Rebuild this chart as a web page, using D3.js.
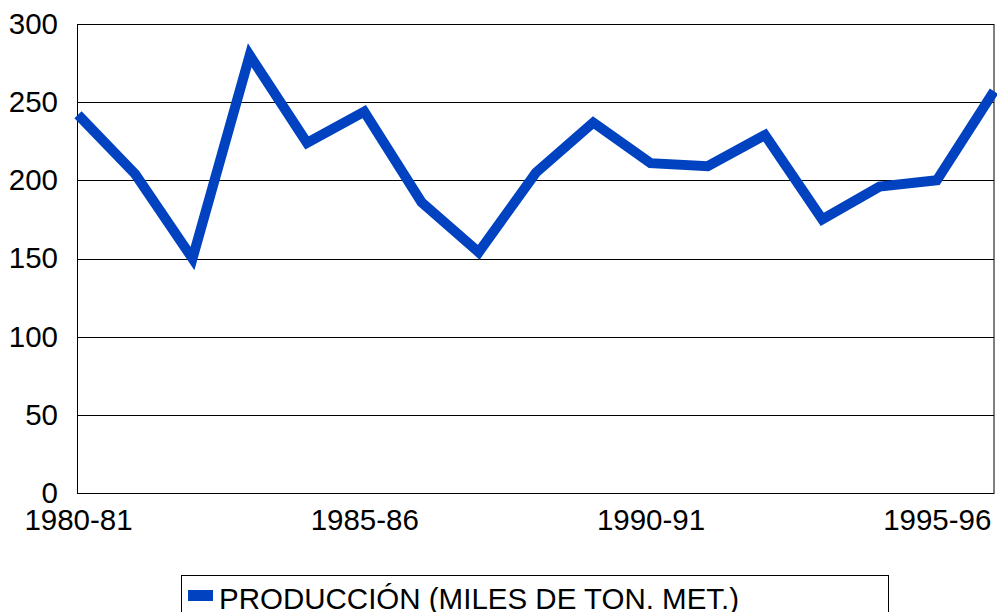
<!DOCTYPE html>
<html>
<head>
<meta charset="utf-8">
<script src="https://cdn.jsdelivr.net/npm/d3@7"></script>
<style>
  body { margin: 0; background: #fff; }
  svg { display: block; font-family: "Liberation Sans", Arial, sans-serif; }
</style>
</head>
<body>
<div id="chart"></div>
<script>
// Chart data
const seasons = ['1980-81', '1981-82', '1982-83', '1983-84', '1984-85', '1985-86',
    '1986-87', '1987-88', '1988-89', '1989-90', '1990-91', '1991-92', '1992-93',
    '1993-94', '1994-95', '1995-96', '1996-97'];
const produccion = [242, 204, 150, 280, 224, 244, 186, 154, 205, 237, 211, 209,
    229, 175, 196, 200, 257];
const shownLabels = ['1980-81', '1985-86', '1990-91', '1995-96'];
const yTicks = [0, 50, 100, 150, 200, 250, 300];
const seriesName = 'PRODUCCIÓN (MILES DE TON. MET.)';

const W = 997, H = 612;
const margin = { top: 24, right: 3, bottom: 119, left: 78 },
    width = W - margin.left - margin.right,
    height = H - margin.top - margin.bottom;
const lineColor = '#0042c0',
    fontSize = 29.5;

const svg = d3.select('#chart')
    .append('svg')
    .attr('width', W)
    .attr('height', H);

const g = svg.append('g')
    .attr('transform', `translate(${margin.left}, ${margin.top})`);

const x = d3.scalePoint()
        .domain(seasons)
        .range([0, width]),
    y = d3.scaleLinear()
        .domain([0, 300])
        .range([height, 0]);

// Gridlines
g.append('g')
    .selectAll('line')
    .data(yTicks)
    .enter()
    .append('line')
    .attr('x1', 0)
    .attr('x2', width)
    .attr('y1', d => Math.round(y(d)) + 0.5)
    .attr('y2', d => Math.round(y(d)) + 0.5)
    .attr('stroke', '#000')
    .attr('stroke-width', 1);

// Plot frame
g.append('rect')
    .attr('x', -0.5)
    .attr('y', 0.5)
    .attr('width', width + 0.5)
    .attr('height', Math.round(height))
    .attr('fill', 'none')
    .attr('stroke', '#000');

// Y axis labels
const yAxis = g.append('g')
    .call(d3.axisLeft(y).tickValues(yTicks).tickSize(0).tickPadding(20));
yAxis.select('.domain').remove();
yAxis.selectAll('text')
    .attr('font-size', fontSize)
    .attr('font-family', '"Liberation Sans", Arial, sans-serif')
    .attr('fill', '#000');

// X axis labels
const xAxis = g.append('g')
    .attr('transform', `translate(0, ${height})`)
    .call(d3.axisBottom(x).tickValues(shownLabels).tickSize(0).tickPadding(16));
xAxis.select('.domain').remove();
xAxis.selectAll('text')
    .attr('font-size', fontSize)
    .attr('font-family', '"Liberation Sans", Arial, sans-serif')
    .attr('fill', '#000');

// Series line
const line = d3.line()
    .x((d, i) => x(seasons[i]))
    .y(d => y(d));

g.append('path')
    .datum(produccion)
    .attr('d', line)
    .attr('fill', 'none')
    .attr('stroke', lineColor)
    .attr('stroke-width', 10)
    .attr('stroke-linejoin', 'miter');

// Legend
const legend = svg.append('g')
    .attr('transform', 'translate(181.5, 575.5)');
legend.append('rect')
    .attr('width', 707)
    .attr('height', 60)
    .attr('fill', '#fff')
    .attr('stroke', '#000');
legend.append('rect')
    .attr('x', 6.5)
    .attr('y', 14.5)
    .attr('width', 25)
    .attr('height', 11)
    .attr('fill', lineColor);
legend.append('text')
    .attr('x', 37.5)
    .attr('y', 33.5)
    .attr('font-size', fontSize)
    .attr('fill', '#000')
    .text(seriesName);
</script>
</body>
</html>
